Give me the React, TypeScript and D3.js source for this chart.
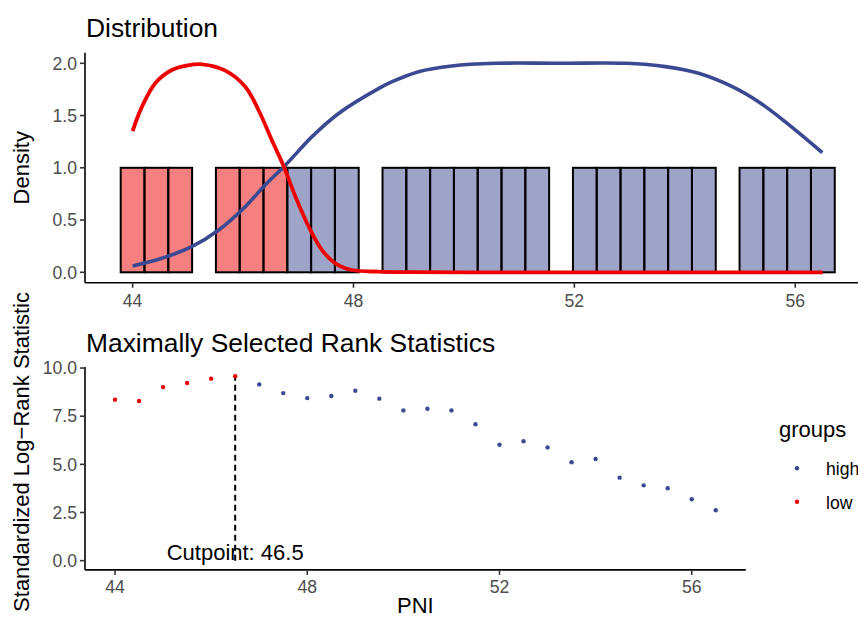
import * as d3 from "d3";

// ---- data ----
const cutpoint = 46.5;

// histogram (30 bins over the observed PNI range)
const histRange = [44, 56.5];
const histDensity = [1, 1, 1, 0, 1, 1, 1, 1, 1, 1, 0, 1, 1, 1, 1, 1, 1, 1, 0, 1, 1, 1, 1, 1, 1, 0, 1, 1, 1, 1];
const histGroup = [
  "low", "low", "low", "low", "low", "low", "low",
  "high", "high", "high", "high", "high", "high", "high", "high", "high", "high", "high",
  "high", "high", "high", "high", "high", "high", "high", "high", "high", "high", "high", "high",
];

// density curves per group
const lowDensX = [44.0, 44.17, 44.41, 44.71, 45.0, 45.26, 45.68, 46.04, 46.28, 46.52, 46.74, 46.95, 47.19, 47.43, 47.67, 47.97, 48.46, 49.0, 50.0, 52.0, 54.0, 56.5];
const lowDensY = [1.352, 1.585, 1.81, 1.936, 1.98, 1.99, 1.93, 1.776, 1.553, 1.266, 1.01, 0.723, 0.436, 0.213, 0.086, 0.022, 0.006, 0.001, 0, 0, 0, 0];
const highDensX = [44.0, 44.53, 45.07, 45.56, 46.04, 46.4, 46.77, 47.25, 47.73, 48.46, 48.7, 49.18, 49.78, 50.57, 51.72, 52.93, 53.65, 54.25, 54.86, 55.34, 55.82, 56.49];
const highDensY = [0.06, 0.134, 0.245, 0.405, 0.628, 0.835, 1.027, 1.298, 1.52, 1.76, 1.824, 1.92, 1.974, 2.0, 2.0, 2.0, 1.968, 1.904, 1.776, 1.63, 1.44, 1.145];

// maximally selected rank statistics
const cutX = [44, 44.5, 45, 45.5, 46, 46.5, 47, 47.5, 48, 48.5, 49, 49.5, 50, 50.5, 51, 51.5, 52, 52.5, 53, 53.5, 54, 54.5, 55, 55.5, 56, 56.5];
const cutStat = [8.36, 8.29, 9.01, 9.22, 9.45, 9.58, 9.15, 8.7, 8.44, 8.55, 8.82, 8.41, 7.8, 7.89, 7.8, 7.08, 6.02, 6.2, 5.88, 5.11, 5.28, 4.31, 3.91, 3.76, 3.19, 2.62];

const xTicks = [44, 48, 52, 56];
const densTicks = [0, 0.5, 1, 1.5, 2];
const statTicks = [0, 2.5, 5, 7.5, 10];

const groupColors: Record<string, string> = { high: "#3B4992", low: "#EE0000" };
const legendGroups = ["high", "low"];

const FONT = "'Liberation Sans', Arial, Helvetica, sans-serif";
const TICK_COL = "#4D4D4D";

export default function App() {
  const W = 858;
  const H = 619;
  const left = 85;

  // ---- top panel scales ----
  const nb = histDensity.length;
  const bw = (histRange[1] - histRange[0]) / (nb - 1);
  const hLo = histRange[0] - bw / 2;
  const hHi = histRange[1] + bw / 2;
  const hPad = (hHi - hLo) * 0.05;
  const pxPerUnitTop = 55.22;
  const xTop = d3
    .scaleLinear()
    .domain([hLo - hPad, hHi + hPad])
    .range([left, left + (hHi - hLo + 2 * hPad) * pxPerUnitTop]);
  const dMax = d3.max([...lowDensY, ...highDensY, ...histDensity]) as number;
  const yTop = d3.scaleLinear().domain([-dMax * 0.05, dMax * 1.05]).range([282.75, 52.85]);

  const bins = histDensity.map((v, k) => ({
    x0: hLo + k * bw,
    x1: hLo + (k + 1) * bw,
    v,
    g: histGroup[k],
  }));

  const line = d3
    .line<[number, number]>()
    .x((d) => xTop(d[0]))
    .y((d) => yTop(Math.max(0, d[1])))
    .curve(d3.curveCatmullRom.alpha(0.5));
  const lowPath = line(lowDensX.map((x, i) => [x, lowDensY[i]]) as [number, number][]) || "";
  const highPath = line(highDensX.map((x, i) => [x, highDensY[i]]) as [number, number][]) || "";

  // ---- bottom panel scales ----
  const cLo = d3.min(cutX) as number;
  const cHi = d3.max(cutX) as number;
  const cPad = (cHi - cLo) * 0.05;
  const xBot = d3.scaleLinear().domain([cLo - cPad, cHi + cPad]).range([left, 745.8]);
  const sMax = d3.max(cutStat) as number;
  const yBot = d3.scaleLinear().domain([-sMax * 0.05, sMax * 1.05]).range([569.9, 366.9]);

  const pts = cutX.map((x, i) => ({ x, y: cutStat[i], g: x <= cutpoint ? "low" : "high" }));

  const axisW = 1.6;

  return (
    <svg
      width={W}
      height={H}
      viewBox={`0 0 ${W} ${H}`}
      style={{ position: "absolute", left: 0, top: 0, background: "#fff" }}
      fontFamily={FONT}
    >
      <rect x={0} y={0} width={W} height={H} fill="#fff" />

      {/* ===== Distribution ===== */}
      <text x={86} y={37} fontSize={26.4} fill="#000">Distribution</text>

      {bins.filter((b) => b.v > 0).map((b, i) => (
        <rect
          key={"b" + i}
          x={xTop(b.x0)}
          y={yTop(b.v)}
          width={xTop(b.x1) - xTop(b.x0)}
          height={yTop(0) - yTop(b.v)}
          fill={groupColors[b.g]}
          fillOpacity={0.5}
          stroke="#000"
          strokeWidth={2}
        />
      ))}

      <path d={highPath} fill="none" stroke={groupColors.high} strokeWidth={3.6} />
      <path d={lowPath} fill="none" stroke={groupColors.low} strokeWidth={3.8} />

      {/* axes top */}
      <line x1={left} x2={left} y1={52.85} y2={282.75} stroke="#000" strokeWidth={axisW} />
      <line x1={left} x2={W} y1={282.75} y2={282.75} stroke="#000" strokeWidth={axisW} />
      {densTicks.map((t) => (
        <g key={"dt" + t}>
          <line x1={left - 5} x2={left} y1={yTop(t)} y2={yTop(t)} stroke="#333" strokeWidth={axisW} />
          <text x={77} y={yTop(t) + 6.2} fontSize={17.6} fill={TICK_COL} textAnchor="end">
            {t.toFixed(1)}
          </text>
        </g>
      ))}
      {xTicks.map((t) => (
        <g key={"xt" + t}>
          <line x1={xTop(t)} x2={xTop(t)} y1={282.75} y2={287.75} stroke="#333" strokeWidth={axisW} />
          <text x={xTop(t)} y={306.5} fontSize={17.6} fill={TICK_COL} textAnchor="middle">
            {t}
          </text>
        </g>
      ))}
      <text
        transform={`translate(28.5,${(52.85 + 282.75) / 2}) rotate(-90)`}
        fontSize={22}
        textAnchor="middle"
        fill="#000"
      >
        Density
      </text>

      {/* ===== Maximally Selected Rank Statistics ===== */}
      <text x={86} y={352} fontSize={26.4} fill="#000">Maximally Selected Rank Statistics</text>

      <text x={xBot(cutpoint)} y={yBot(0) - 1} fontSize={22} textAnchor="middle" fill="#000">
        Cutpoint: {cutpoint}
      </text>
      <line
        x1={xBot(cutpoint)}
        x2={xBot(cutpoint)}
        y1={yBot(0)}
        y2={yBot(sMax)}
        stroke="#000"
        strokeWidth={2}
        strokeDasharray="6,4"
      />

      {pts.map((p, i) => (
        <circle key={"p" + i} cx={xBot(p.x)} cy={yBot(p.y)} r={2.2} fill={groupColors[p.g]} />
      ))}

      <line x1={left} x2={left} y1={366.9} y2={569.9} stroke="#000" strokeWidth={axisW} />
      <line x1={left} x2={745.8} y1={569.9} y2={569.9} stroke="#000" strokeWidth={axisW} />
      {statTicks.map((t) => (
        <g key={"st" + t}>
          <line x1={left - 5} x2={left} y1={yBot(t)} y2={yBot(t)} stroke="#333" strokeWidth={axisW} />
          <text x={77} y={yBot(t) + 6.2} fontSize={17.6} fill={TICK_COL} textAnchor="end">
            {t.toFixed(1)}
          </text>
        </g>
      ))}
      {xTicks.map((t) => (
        <g key={"bx" + t}>
          <line x1={xBot(t)} x2={xBot(t)} y1={569.9} y2={574.9} stroke="#333" strokeWidth={axisW} />
          <text x={xBot(t)} y={593} fontSize={17.6} fill={TICK_COL} textAnchor="middle">
            {t}
          </text>
        </g>
      ))}
      <text x={(left + 745.8) / 2} y={613} fontSize={22} textAnchor="middle" fill="#000">
        PNI
      </text>
      <text transform={`translate(28.5,452) rotate(-90)`} fontSize={22} textAnchor="middle" fill="#000">
        Standardized Log−Rank Statistic
      </text>

      {/* legend */}
      <text x={779} y={437} fontSize={22} fill="#000">groups</text>
      {legendGroups.map((g, i) => (
        <g key={"lg" + g}>
          <circle cx={797} cy={468.3 + i * 33.5} r={2.2} fill={groupColors[g]} />
          <text x={826} y={475 + i * 33.5} fontSize={17.6} fill="#000">
            {g}
          </text>
        </g>
      ))}
    </svg>
  );
}
